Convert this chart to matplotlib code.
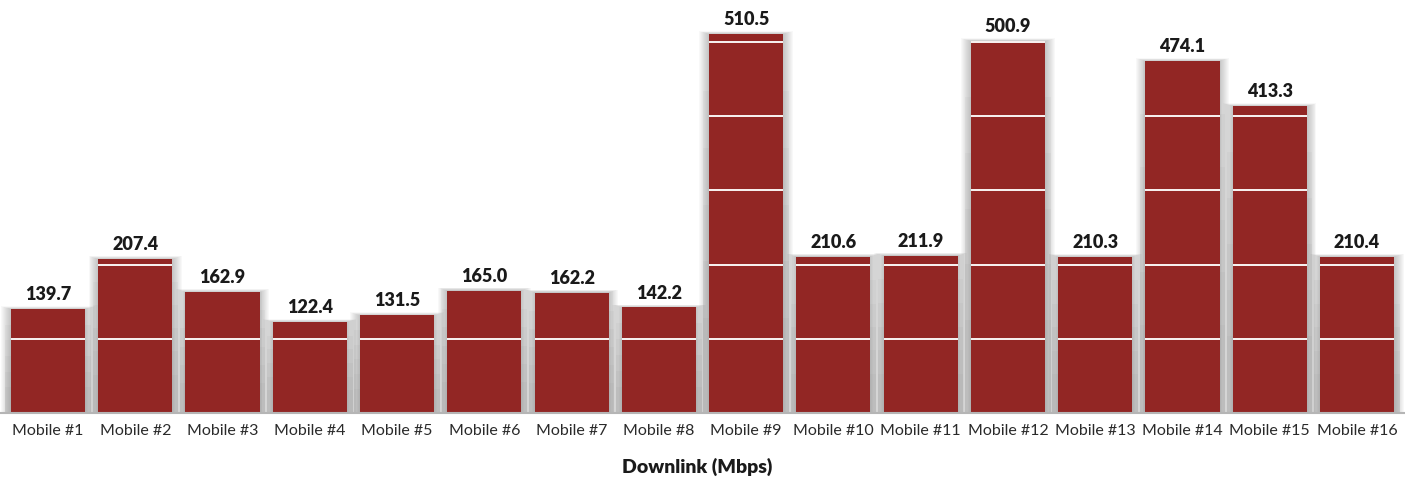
import matplotlib
matplotlib.use("Agg")
import matplotlib.pyplot as plt

# Downlink throughput per device
devices = [f"Mobile #{i}" for i in range(1, 17)]
downlink = [139.7, 207.4, 162.9, 122.4, 131.5, 165.0, 162.2, 142.2,
            510.5, 210.6, 211.9, 500.9, 210.3, 474.1, 413.3, 210.4]
gridlines = [100, 200, 300, 400, 500]

BAR_COLOR = "#922624"
FONT = ["Lato", "DejaVu Sans"]

fig = plt.figure(figsize=(14.05, 4.78), dpi=100)
ax = fig.add_axes([0, 1 - 413 / 478, 1, 413 / 478])

x = list(range(len(devices)))
width = 0.85

# soft grey shadow: stacked translucent rectangles growing sideways
for k in range(1, 11):
    ax.bar(x, [v + 0.4 * k for v in downlink],
           width=width + 0.022 * k, color="#505050", alpha=0.035,
           linewidth=0, zorder=1)
# a little extra darkening toward the floor
for k in range(1, 6):
    ax.bar(x, [v * (1 - 0.15 * k) for v in downlink],
           width=width + 0.13, color="#505050", alpha=0.035,
           linewidth=0, zorder=1)

ax.bar(x, downlink, width=width, color=BAR_COLOR, linewidth=0, zorder=2)

# white gridlines drawn only across the bars
for y in gridlines:
    for i, v in zip(x, downlink):
        if v > y:
            ax.hlines(y, i - width / 2, i + width / 2, color="white",
                      lw=1.4, zorder=3, alpha=0.95)

for i, v in zip(x, downlink):
    ax.text(i, v + 8, f"{v:.1f}", ha="center", va="bottom",
            fontsize=13, fontweight="heavy", family=FONT, color="#1a1a1a")

ax.set_xlim(-0.55, 15.55)
ax.set_ylim(0, 556.6)
ax.set_yticks([])
ax.set_xticks(x)
ax.set_xticklabels(devices, fontsize=11.5, family=FONT, color="#2a2a2a")
ax.tick_params(axis="x", length=0, pad=8)

for side in ["top", "left", "right"]:
    ax.spines[side].set_visible(False)
ax.spines["bottom"].set_color("#b5b5b5")
ax.spines["bottom"].set_linewidth(1.5)
ax.spines["bottom"].set_zorder(4)

fig.text(0.496, 1 - 467 / 478, "Downlink (Mbps)", ha="center", va="center",
         fontsize=14, fontweight="heavy", family=FONT, color="#1a1a1a")

fig.savefig("out.png", dpi=100)
